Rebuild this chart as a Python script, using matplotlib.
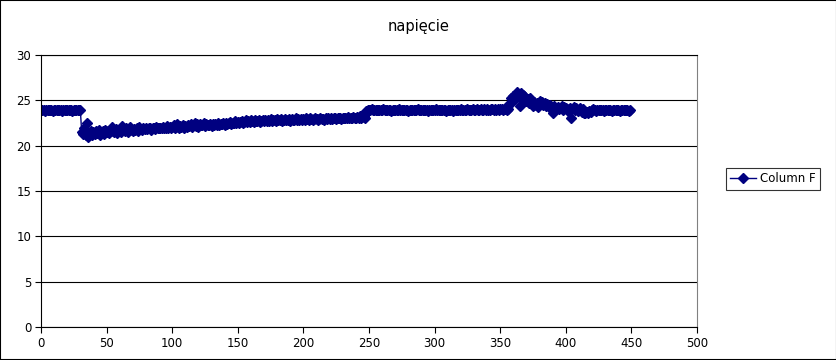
import matplotlib
matplotlib.use("Agg")
import matplotlib.pyplot as plt
from matplotlib.patches import Rectangle
from matplotlib.lines import Line2D

title = "napięcie"
series_name = "Column F"

seg_a = [23.9,23.9,23.9,23.8,23.9,23.9,23.9,23.9,23.9,23.8,23.9,23.9,23.9,23.9,23.9,23.9,
         23.8,23.9,23.9,23.9,23.9,23.9,23.9,23.9,23.8,23.9,23.9,23.9,23.9,23.9,23.9]

seg_b = [21.5,21.3,22.0,21.2,22.5,21.0,21.4,21.6,21.2,21.5,
         21.3,21.6,21.4,21.7,21.2,21.5,21.6,21.3,21.7,21.5,
         21.6,21.4,21.8,22.1,21.6,21.5,21.8,21.4,21.7,21.6,
         21.5,22.2,21.7,21.6,21.9,21.5,21.8,22.1,21.7,21.6,
         21.8,21.7,21.9,21.6,22.1,21.8,21.7,21.9,21.8,22.0,
         21.8,21.9,22.0,21.7,22.0,21.9,21.8,22.1,21.9,22.0,
         22.0,21.9,22.1,21.9,22.0,22.2,21.9,22.1,22.0,22.1,
         22.3,22.0,22.1,22.4,22.0,22.2,22.1,22.3,22.0,22.2,
         22.1,22.3,22.2,22.4,22.1,22.3,22.5,22.2,22.4,22.1,
         22.4,22.3,22.3,22.5,22.2,22.4,22.3,22.3,22.4,22.2,
         22.4,22.3,22.4,22.3,22.5,22.3,22.4,22.4,22.5,22.3,
         22.5,22.4,22.5,22.6,22.4,22.5,22.5,22.7,22.5,22.6,
         22.5,22.6,22.7,22.5,22.6,22.8,22.6,22.7,22.6,22.8,
         22.7,22.6,22.8,22.7,22.7,22.8,22.6,22.7,22.8,22.7,
         22.8,22.7,22.8,22.7,22.9,22.7,22.8,22.8,22.7,22.9,
         22.8,22.8,22.9,22.7,22.8,22.9,22.8,22.8,22.9,22.7,
         22.9,22.8,22.8,23.0,22.8,22.9,22.8,22.9,22.8,22.9,
         22.8,23.0,22.9,22.8,23.0,22.9,22.8,22.9,23.0,22.9,
         22.8,22.9,23.0,22.9,22.9,22.8,23.0,22.9,23.0,22.9,
         23.0,22.9,23.0,23.1,22.9,23.0,23.0,23.1,22.9,23.0,
         23.1,23.0,23.0,23.2,23.0,23.1,23.0,23.2,23.1,23.0,
         23.2,23.1,23.3,23.1,23.2,23.3,23.1]

seg_c = [23.8,23.9,23.9,23.9,24.0,23.9,23.9,23.9,23.9,23.9,
         23.9,23.9,23.9,24.0,23.9,23.9,23.9,23.9,23.9,23.8,
         23.9,23.9,23.9,23.9,23.9,24.0,23.9,23.9,23.9,23.9,
         23.9,23.9,23.8,23.9,23.9,23.9,23.9,23.9,23.9,24.0,
         23.9,23.9,23.9,23.9,23.9,23.9,23.9,23.8,23.9,23.9,
         23.9,23.9,23.9,24.0,23.9,23.9,23.9,23.9,23.9,23.9,
         23.9,23.8,23.9,23.9,23.9,23.9,23.8,23.9,23.9,23.9,
         23.9,23.9,24.0,23.9,23.9,23.9,23.9,24.0,23.9,23.9,
         23.9,24.0,23.9,23.9,24.0,23.9,23.9,24.0,23.9,23.9,
         24.0,23.9,24.0,23.9,23.9,24.0,24.0,23.9,24.0,23.9,
         24.0,23.9,24.0,24.0,23.9,24.0,24.0,23.9,24.0]

seg_d = [24.6,25.3,24.8,25.5,25.2,25.7,25.9,25.4,24.4,25.8,
         25.6,25.5,25.0,24.9,25.2,24.7,25.3,24.6,24.4,24.8,
         24.5,24.7,24.3,24.9,24.6,24.8,24.5,24.7,24.4,24.6,
         24.3,24.5,24.2,23.6,24.4,23.9,24.1,24.3,24.0,24.2,
         24.4,23.9,24.3,24.1,24.0,23.8,24.2,23.1,24.0,24.3,
         23.9,24.1,23.8,23.9,24.2,23.7,24.0,23.6,23.6,23.7,
         23.6,23.8,23.7,23.9,24.0,23.9,23.8,23.9,23.9,23.9,
         23.9,23.9,23.8,23.9,23.9,23.9,23.9,23.9,23.8,23.9,
         23.9,23.9,23.9,23.9,23.8,23.9,23.9,23.9,23.9,23.9,
         23.9,23.8,23.9]

values = seg_a + seg_b + seg_c + seg_d
x_vals = list(range(len(values)))

x_ticks = [0, 50, 100, 150, 200, 250, 300, 350, 400, 450, 500]
y_ticks = [0, 5, 10, 15, 20, 25, 30]

navy = "#000080"
W, H = 837, 360
fig = plt.figure(figsize=(W / 100, H / 100), dpi=100)
ax = fig.add_axes([41 / W, 1 - 327 / H, (697 - 41) / W, (327 - 55) / H])

ax.plot(x_vals, values, color=navy, lw=1, marker="D", markersize=5,
        markerfacecolor=navy, markeredgecolor=navy)

ax.set_xlim(0, 500)
ax.set_ylim(0, 30)
ax.set_xticks(x_ticks)
ax.set_yticks(y_ticks)
ax.tick_params(labelsize=8.5, length=4, width=0.8, direction="out", colors="black", pad=3)
ax.yaxis.grid(True, color="black", lw=0.8)
ax.set_axisbelow(True)
for s in ["left", "bottom", "top"]:
    ax.spines[s].set_color("black")
    ax.spines[s].set_linewidth(0.8)
ax.spines["right"].set_color("#808080")
ax.spines["right"].set_linewidth(0.8)

fig.text(0.5, 1 - 27 / H, title, ha="center", va="center", fontsize=10.5)

handle = Line2D([], [], color=navy, lw=1, marker="D", markersize=5,
                markerfacecolor=navy, markeredgecolor=navy)
leg = fig.legend([handle], [series_name], loc="center",
                 bbox_to_anchor=(773 / W, 1 - 179 / H), fontsize=8.5,
                 frameon=True, fancybox=False, edgecolor="black",
                 borderpad=0.4, handlelength=2.2, handletextpad=0.3)
leg.get_frame().set_linewidth(0.8)

fig.patches.append(Rectangle((0, 0), 1, 1, transform=fig.transFigure,
                             fill=False, edgecolor="black", lw=1.5))

fig.savefig("out.png", dpi=100)
